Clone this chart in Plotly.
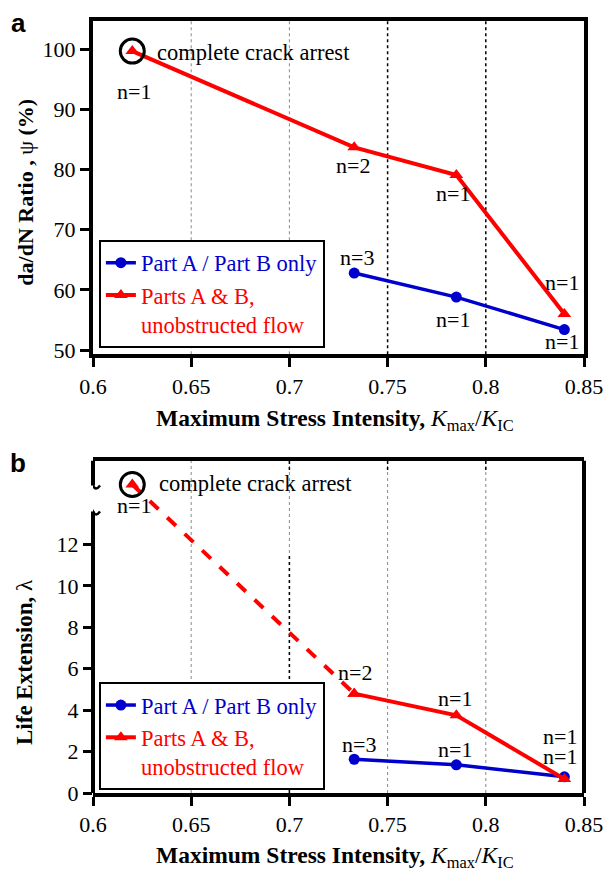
import plotly.graph_objects as go

# ---------------- data ----------------
k_blue = [0.733, 0.785, 0.840]
k_red = [0.620, 0.733, 0.785, 0.840]

psi_blue = [62.8, 58.8, 53.4]
psi_red = [99.7, 83.7, 79.1, 56.0]

lam_blue = [1.63, 1.36, 0.78]
lam_red = [14.9, 4.8, 3.75, 0.68]   # first point = complete crack arrest (axis break)

n_blue = ["n=3", "n=1", "n=1"]
n_red = ["n=1", "n=2", "n=1", "n=1"]

x_ticks = [0.6, 0.65, 0.7, 0.75, 0.8, 0.85]
x_ticktext = ["0.6", "0.65", "0.7", "0.75", "0.8", "0.85"]
psi_ticks = [50, 60, 70, 80, 90, 100]
lam_ticks = [0, 2, 4, 6, 8, 10, 12]

BLUE = "#0000cc"
RED = "#ff0000"
FONT = "Liberation Serif, Times New Roman, Times, serif"

fig = go.Figure()

# ---------------- panel a ----------------
fig.add_trace(go.Scatter(
    x=k_blue, y=psi_blue, mode="lines+markers", xaxis="x", yaxis="y",
    line=dict(color=BLUE, width=3.5), marker=dict(symbol="circle", size=11, color=BLUE),
    name='<span style="color:#0000cc">Part A / Part B only</span>', legend="legend"))
fig.add_trace(go.Scatter(
    x=k_red, y=psi_red, mode="lines+markers", xaxis="x", yaxis="y",
    line=dict(color=RED, width=4), marker=dict(symbol="triangle-up", size=12, color=RED),
    name='<span style="color:#ff0000">Parts A &amp; B,<br>unobstructed flow</span>', legend="legend"))
fig.add_trace(go.Scatter(
    x=[k_red[0]], y=[psi_red[0]], mode="markers", xaxis="x", yaxis="y", showlegend=False,
    marker=dict(symbol="circle-open", size=24, color="black", line=dict(width=3))))

# ---------------- panel b ----------------
fig.add_trace(go.Scatter(
    x=k_blue, y=lam_blue, mode="lines+markers", xaxis="x2", yaxis="y2",
    line=dict(color=BLUE, width=3.5), marker=dict(symbol="circle", size=11, color=BLUE),
    name='<span style="color:#0000cc">Part A / Part B only</span>', legend="legend2"))
fig.add_trace(go.Scatter(
    x=k_red[:2], y=lam_red[:2], mode="lines+markers", xaxis="x2", yaxis="y2", showlegend=False,
    line=dict(color=RED, width=4, dash="dash"), marker=dict(symbol="triangle-up", size=12, color=RED)))
fig.add_trace(go.Scatter(
    x=k_red[1:], y=lam_red[1:], mode="lines+markers", xaxis="x2", yaxis="y2",
    line=dict(color=RED, width=4), marker=dict(symbol="triangle-up", size=12, color=RED),
    name='<span style="color:#ff0000">Parts A &amp; B,<br>unobstructed flow</span>', legend="legend2"))
fig.add_trace(go.Scatter(
    x=[k_red[0]], y=[lam_red[0]], mode="markers", xaxis="x2", yaxis="y2", showlegend=False,
    marker=dict(symbol="circle-open", size=24, color="black", line=dict(width=3))))

# ---------------- axes ----------------
axis_common = dict(ticks="outside", ticklen=9, tickwidth=3, tickcolor="black",
                   tickfont=dict(family=FONT, size=22, color="black"), showgrid=False,
                   zeroline=False)
xcommon = dict(axis_common, range=[0.6, 0.85], tickvals=x_ticks, ticktext=x_ticktext,
               showline=True, linewidth=4, linecolor="black", mirror=True)

legend_common = dict(xanchor="left", yanchor="bottom", bgcolor="white",
                     bordercolor="black", borderwidth=2, valign="top", itemwidth=30,
                     tracegroupgap=0, font=dict(family=FONT, size=22.5))

fig.update_layout(
    width=604, height=864,
    margin=dict(l=85, r=25, t=9, b=79),
    paper_bgcolor="white", plot_bgcolor="white",
    xaxis=dict(xcommon, domain=[0, 1], anchor="y"),
    yaxis=dict(axis_common, domain=[0.5683, 1], anchor="x", range=[49.3, 104.7],
               tickvals=psi_ticks, showline=True, linewidth=4, linecolor="black", mirror=True),
    xaxis2=dict(xcommon, domain=[0, 1], anchor="y2"),
    yaxis2=dict(axis_common, domain=[0, 0.4304], anchor="x2", range=[0, 16.05],
                tickvals=lam_ticks, showline=False),
    legend=dict(legend_common, x=0.012, y=0.577),
    legend2=dict(legend_common, x=0.012, y=0.004),
    font=dict(family=FONT, size=20, color="black"),
)

shapes = []
# gridlines panel a
for xv, col, w in [(0.65, "#888888", 1), (0.7, "#888888", 1), (0.75, "black", 1.5), (0.8, "black", 1.5)]:
    shapes.append(dict(type="line", xref="x", yref="y domain", x0=xv, x1=xv, y0=0, y1=1,
                       line=dict(color=col, width=w, dash="dot"), layer="below"))
# gridlines panel b
for xv in [0.65, 0.7, 0.75, 0.8]:
    shapes.append(dict(type="line", xref="x2", yref="y2 domain", x0=xv, x1=xv, y0=0, y1=1,
                       line=dict(color="#888888", width=1, dash="dot"), layer="below"))
shapes.append(dict(type="line", xref="x2", yref="y2", x0=0.7, x1=0.7, y0=0, y1=11.5,
                   line=dict(color="black", width=1.5, dash="dot"), layer="below"))
for xv in [0.7, 0.75, 0.8]:
    shapes.append(dict(type="line", xref="x2", yref="y2", x0=xv, x1=xv, y0=15.6, y1=16.05,
                       line=dict(color="black", width=1.5, dash="dot"), layer="below"))
# panel b frame (left broken, right solid)
shapes.append(dict(type="line", xref="x2 domain", yref="y2", x0=0, x1=0, y0=-0.1, y1=13.6,
                   line=dict(color="black", width=4)))
shapes.append(dict(type="line", xref="x2 domain", yref="y2", x0=0, x1=0, y0=14.85, y1=16.15,
                   line=dict(color="black", width=4)))
shapes.append(dict(type="line", xref="x2 domain", yref="y2", x0=1, x1=1, y0=-0.1, y1=16.15,
                   line=dict(color="black", width=4)))
# break tildes
for yv in [13.6, 14.85]:
    shapes.append(dict(type="path", xref="x2", yref="y2", xsizemode="pixel", ysizemode="pixel",
                       xanchor=0.6, yanchor=yv, path="M -7,0 C -4,4 -2,4 0,0 C 2,-4 4,-4 7,0",
                       line=dict(color="black", width=2.5)))
fig.update_layout(shapes=shapes)

ann = []
def txt(x, y, s, xr="x", yr="y", xanchor="center", size=22):
    ann.append(dict(x=x, y=y, xref=xr, yref=yr, text=s, showarrow=False, xanchor=xanchor,
                    yanchor="middle", font=dict(family=FONT, size=size, color="black")))

# panel a labels
txt(0.6207, 93.0, n_red[0])
txt(0.6315, 99.4, "complete crack arrest", xanchor="left", size=22.5)
txt(0.7325, 80.6, n_red[1])
txt(0.7835, 76.0, n_red[2])
txt(0.8390, 61.2, n_red[3])
txt(0.7345, 65.4, n_blue[0])
txt(0.7835, 55.0, n_blue[1])
txt(0.8390, 51.5, n_blue[2])
# panel b labels
txt(0.6207, 13.9, n_red[0], "x2", "y2")
txt(0.6325, 14.95, "complete crack arrest", "x2", "y2", xanchor="left", size=22.5)
txt(0.7335, 5.8, n_red[1], "x2", "y2")
txt(0.7845, 4.55, n_red[2], "x2", "y2")
txt(0.8380, 2.73, n_red[3], "x2", "y2")
txt(0.7355, 2.35, n_blue[0], "x2", "y2")
txt(0.7845, 2.1, n_blue[1], "x2", "y2")
txt(0.8380, 1.77, n_blue[2], "x2", "y2")

# axis titles
xtitle = "<b>Maximum Stress Intensity,</b> <i>K</i><sub>max</sub>/<i>K</i><sub>IC</sub>"
ann.append(dict(x=0.492, y=0.483, xref="paper", yref="paper", text=xtitle, showarrow=False,
                xanchor="center", yanchor="middle", font=dict(family=FONT, size=23.5)))
ann.append(dict(x=0.492, y=-0.0825, xref="paper", yref="paper", text=xtitle, showarrow=False,
                xanchor="center", yanchor="middle", font=dict(family=FONT, size=23.5)))
ann.append(dict(x=-0.138, y=0.778, xref="paper", yref="paper",
                text="<b>da/dN Ratio ,</b> ψ <b>(%)</b>", showarrow=False, textangle=-90,
                xanchor="center", yanchor="middle", font=dict(family=FONT, size=22)))
ann.append(dict(x=-0.138, y=0.17, xref="paper", yref="paper",
                text="<b>Life Extension,</b> λ", showarrow=False, textangle=-90,
                xanchor="center", yanchor="middle", font=dict(family=FONT, size=23)))
# panel letters
ann.append(dict(x=-0.152, y=0.997, xref="paper", yref="paper", text="<b>a</b>", showarrow=False,
                xanchor="center", yanchor="middle", font=dict(family="Liberation Sans", size=26)))
ann.append(dict(x=-0.152, y=0.428, xref="paper", yref="paper", text="<b>b</b>", showarrow=False,
                xanchor="center", yanchor="middle", font=dict(family="Liberation Sans", size=26)))
fig.update_layout(annotations=ann)

fig.write_html("out.html")
